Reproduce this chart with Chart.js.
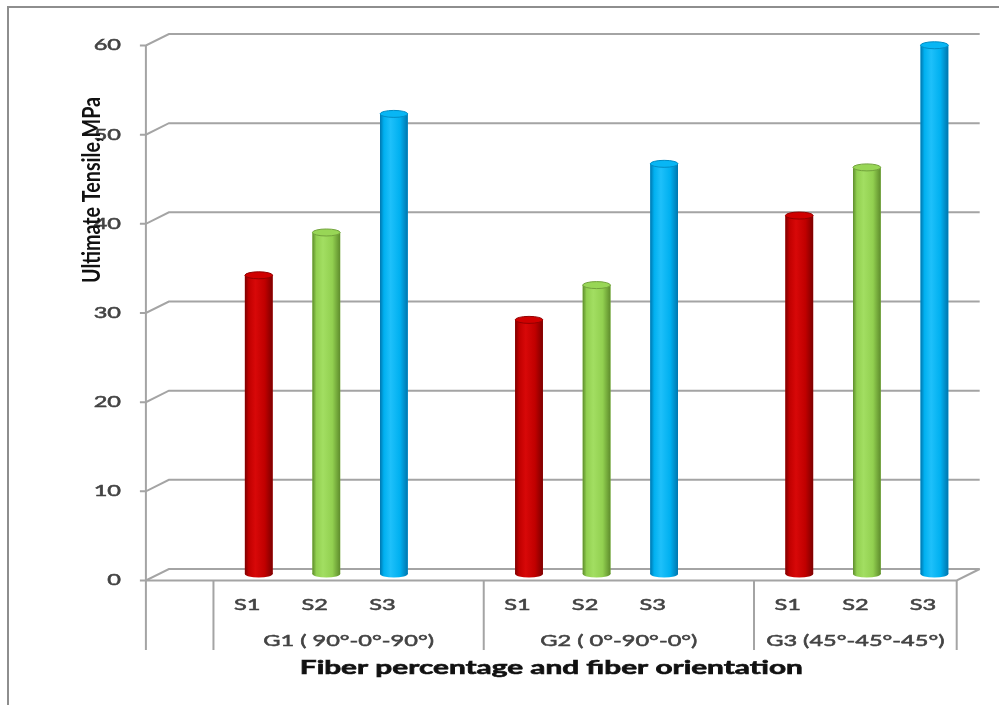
<!DOCTYPE html>
<html>
<head>
<meta charset="utf-8">
<script src="https://cdn.jsdelivr.net/npm/chart.js@4.4.1/dist/chart.umd.min.js"></script>
<style>
  html, body { margin: 0; padding: 0; background: #ffffff; }
  #wrap { width: 1007px; height: 705px; position: relative; }
</style>
</head>
<body>
<div id="wrap"><canvas id="c" width="1007" height="705"></canvas></div>
<script>
// ---- data ----
const groups = ['G1 ( 90°-0°-90°)', 'G2 ( 0°-90°-0°)', 'G3 (45°-45°-45°)'];
const samples = ['S1', 'S2', 'S3'];
const s1Values = [33.5, 28.5, 40.2];
const s2Values = [38.3, 32.4, 45.6];
const s3Values = [51.6, 46.0, 59.3];
const yTicks = [0, 10, 20, 30, 40, 50, 60];
const yTitle = 'Ultimate Tensile,MPa';
const xTitle = 'Fiber percentage and fiber orientation';

// ---- styles ----
const palette = [
  { dark: '#7d0000', mid: '#c00000', light: '#d80808', top: '#d00000', rim: '#920000' },
  { dark: '#5e8c2c', mid: '#92d050', light: '#a2de62', top: '#98d656', rim: '#72a23c' },
  { dark: '#0076ae', mid: '#00b0f0', light: '#1ec0fa', top: '#08b6f4', rim: '#008cc4' }
];
const FRONT = { dx: -11.5, dy: 6.5 };
const BACK = { dx: 11.5, dy: -5 };
const AXIS_BOTTOM = 650;
const LINE = '#a4a4a4';

// category slots: a blank slot first, then S1..S3 per group with a blank slot between groups
const seriesValues = [s1Values, s2Values, s3Values];
const slotLabels = [''];
const slotValues = [null];
const slotSeries = [-1];
const groupSpans = [];
groups.forEach((g, gi) => {
  const start = slotLabels.length;
  samples.forEach((s, si) => {
    slotLabels.push(s);
    slotValues.push(seriesValues[si][gi]);
    slotSeries.push(si);
  });
  if (gi < groups.length - 1) {
    slotLabels.push('');
    slotValues.push(null);
    slotSeries.push(-1);
  }
  groupSpans.push([start, slotLabels.length]);
});

// horizontally widened text with a faint outline for a heavier stroke
function stretchedText(ctx, text, x, y, font, sx, align, color, weight) {
  ctx.save();
  ctx.font = font;
  ctx.fillStyle = color;
  ctx.strokeStyle = color;
  ctx.lineWidth = weight;
  ctx.textBaseline = 'middle';
  ctx.textAlign = align;
  ctx.translate(x, y);
  ctx.scale(sx, 1);
  ctx.fillText(text, 0, 0);
  if (weight > 0) ctx.strokeText(text, 0, 0);
  ctx.restore();
}

const FONT_REG = '15px Lato';
const FONT_BOLD = 'bold 18px Lato';
const FONT_YTITLE = 'bold 19px Lato';
const TEXT_GREY = '#434343';

const chartFrame = {
  id: 'chartFrame',
  beforeDatasetsDraw(chart) {
    const ctx = chart.ctx;
    const ys = chart.scales.y;
    const ca = chart.chartArea;
    const w = (ca.right - ca.left) / slotLabels.length;
    const axisX = ca.left + FRONT.dx;
    const backLeft = ca.left + BACK.dx;
    const backRight = ca.right + BACK.dx;
    const frontRight = ca.right + FRONT.dx;

    ctx.save();
    // outer frame
    ctx.strokeStyle = '#8e8e8e';
    ctx.lineWidth = 2;
    ctx.beginPath();
    ctx.moveTo(8, 705);
    ctx.lineTo(8, 7);
    ctx.lineTo(999, 7);
    ctx.stroke();

    ctx.strokeStyle = LINE;
    ctx.lineWidth = 2;
    // back wall gridlines with their depth connectors and tick marks
    yTicks.forEach(v => {
      const p = ys.getPixelForValue(v);
      ctx.beginPath();
      ctx.moveTo(axisX - 6, p + FRONT.dy);
      ctx.lineTo(axisX, p + FRONT.dy);
      ctx.lineTo(backLeft, p + BACK.dy);
      ctx.lineTo(backRight, p + BACK.dy);
      ctx.stroke();
    });
    // floor front edge and right depth edge
    const z = ys.getPixelForValue(0);
    ctx.beginPath();
    ctx.moveTo(axisX, z + FRONT.dy);
    ctx.lineTo(frontRight, z + FRONT.dy);
    ctx.lineTo(backRight, z + BACK.dy);
    ctx.stroke();
    // front value axis
    ctx.beginPath();
    ctx.moveTo(axisX, ys.getPixelForValue(yTicks[yTicks.length - 1]) + FRONT.dy);
    ctx.lineTo(axisX, AXIS_BOTTOM);
    ctx.stroke();
    // group separators below the floor
    const bounds = [groupSpans[0][0]];
    groupSpans.forEach(s => bounds.push(s[1]));
    bounds.forEach(k => {
      const x = ca.left + k * w + FRONT.dx;
      ctx.beginPath();
      ctx.moveTo(x, z + FRONT.dy);
      ctx.lineTo(x, AXIS_BOTTOM);
      ctx.stroke();
    });
    ctx.restore();
  },
  afterDatasetsDraw(chart) {
    const ctx = chart.ctx;
    const meta = chart.getDatasetMeta(0);
    const xs = chart.scales.x, ys = chart.scales.y;
    const ca = chart.chartArea;
    const w = (ca.right - ca.left) / slotLabels.length;

    // cylinders over the bar elements
    meta.data.forEach((bar, i) => {
      const si = slotSeries[i];
      if (si < 0 || slotValues[i] == null) return;
      const c = palette[si];
      const p = bar.getProps(['x', 'y', 'base', 'width'], true);
      const half = p.width / 2;
      const ry = 3.5;
      const left = p.x - half, right = p.x + half;
      const g = ctx.createLinearGradient(left, 0, right, 0);
      g.addColorStop(0, c.dark);
      g.addColorStop(0.14, c.mid);
      g.addColorStop(0.38, c.light);
      g.addColorStop(0.72, c.mid);
      g.addColorStop(1, c.dark);
      ctx.save();
      ctx.fillStyle = g;
      ctx.beginPath();
      ctx.ellipse(p.x, p.base, half, ry, 0, 0, Math.PI * 2);
      ctx.fill();
      ctx.fillRect(left, p.y, p.width, p.base - p.y);
      ctx.beginPath();
      ctx.ellipse(p.x, p.y, half, ry, 0, 0, Math.PI * 2);
      ctx.fillStyle = c.top;
      ctx.fill();
      ctx.strokeStyle = c.rim;
      ctx.lineWidth = 1;
      ctx.stroke();
      ctx.restore();
    });

    // text stretch factors
    ctx.save();
    ctx.font = FONT_REG;
    const sxReg = 157 / ctx.measureText(groups[1]).width;
    ctx.font = FONT_BOLD;
    const sxBold = 503 / ctx.measureText(xTitle).width;
    ctx.restore();

    // value tick labels on the front axis
    yTicks.forEach(v => {
      const p = ys.getPixelForValue(v) + FRONT.dy;
      stretchedText(ctx, String(v), 121, p, FONT_REG, sxReg, 'right', TEXT_GREY, 0.5);
    });

    // sample labels
    slotLabels.forEach((lab, i) => {
      if (!lab) return;
      const x = xs.getPixelForValue(i) + FRONT.dx;
      stretchedText(ctx, lab, x, 605, FONT_REG, sxReg, 'center', TEXT_GREY, 0.5);
    });

    // group labels
    groupSpans.forEach((s, gi) => {
      const x = ca.left + (s[0] + s[1]) / 2 * w + FRONT.dx;
      stretchedText(ctx, groups[gi], x, 641, FONT_REG, sxReg, 'center', TEXT_GREY, 0.5);
    });

    // axis titles
    stretchedText(ctx, xTitle, (ca.left + ca.right) / 2 + FRONT.dx, 668, FONT_BOLD, sxBold, 'center', '#111111', 0.6);

    ctx.save();
    ctx.font = FONT_YTITLE;
    const len = ctx.measureText(yTitle).width;
    ctx.translate(92, 190);
    ctx.scale(1.25, 1);
    ctx.rotate(-Math.PI / 2);
    ctx.scale(186 / len, 1);
    ctx.fillStyle = '#111111';
    ctx.textAlign = 'center';
    ctx.textBaseline = 'middle';
    ctx.fillText(yTitle, 0, 0);
    ctx.restore();
  }
};

new Chart(document.getElementById('c').getContext('2d'), {
  type: 'bar',
  data: {
    labels: slotLabels,
    datasets: [{
      data: slotValues,
      backgroundColor: slotSeries.map(i => i < 0 ? 'rgba(0,0,0,0)' : palette[i].mid),
      borderWidth: 0,
      barPercentage: 0.41,
      categoryPercentage: 1
    }]
  },
  options: {
    responsive: false,
    animation: false,
    devicePixelRatio: 1,
    layout: { padding: { left: 157.4, right: 38.8, top: 39, bottom: 131 } },
    plugins: { legend: { display: false }, tooltip: { enabled: false } },
    scales: {
      x: { display: false },
      y: { display: false, min: 0, max: 60, ticks: { stepSize: 10 } }
    }
  },
  plugins: [chartFrame]
});
</script>
</body>
</html>
